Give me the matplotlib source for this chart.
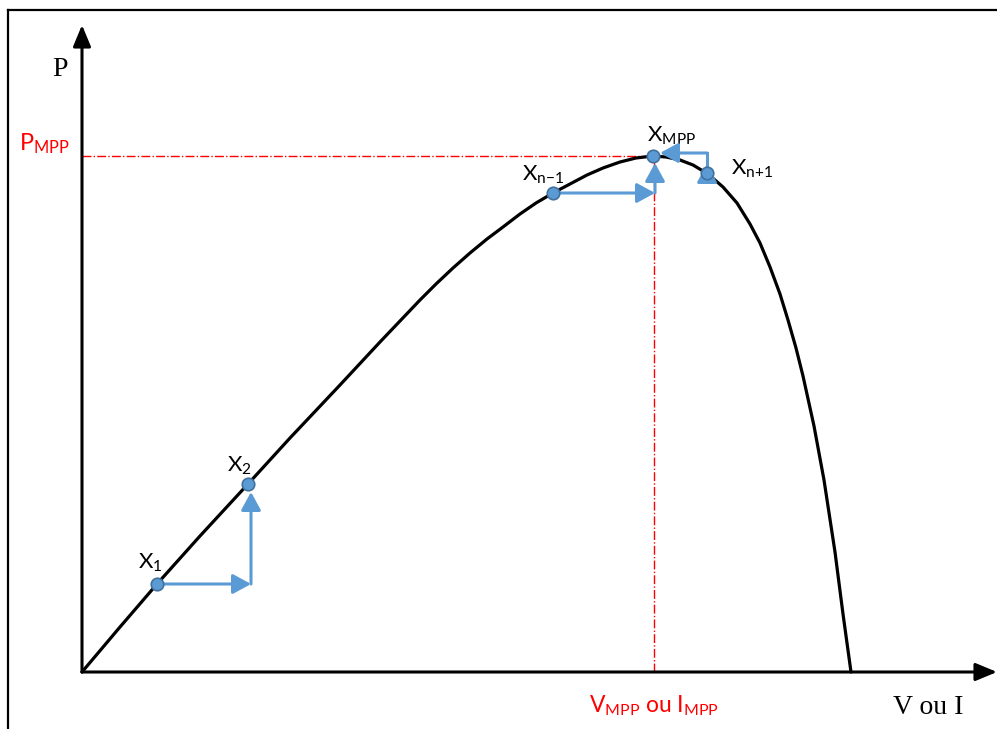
import numpy as np
import matplotlib
matplotlib.use("Agg")
import matplotlib.pyplot as plt
from matplotlib.lines import Line2D

plt.rcParams['mathtext.fontset'] = 'custom'
plt.rcParams['mathtext.rm'] = 'Lato'
plt.rcParams['mathtext.it'] = 'Lato:italic'

# courbe P(V) (unites arbitraires)
v_curve = [0.00, 0.38, 0.75, 1.18, 1.66, 2.08, 2.58, 2.98, 3.38, 3.54, 3.71, 3.88, 4.05,
           4.21, 4.38, 4.54, 4.71, 4.88, 5.05, 5.21, 5.38, 5.54, 5.71, 5.84, 5.98, 6.11,
           6.26, 6.41, 6.55, 6.68, 6.78, 6.88, 6.98, 7.06, 7.14, 7.21, 7.32, 7.42, 7.53,
           7.61, 7.69]
p_curve = [0.00, 0.45, 0.88, 1.36, 1.88, 2.34, 2.87, 3.30, 3.72, 3.88, 4.04, 4.19, 4.33,
           4.45, 4.58, 4.69, 4.79, 4.88, 4.97, 5.04, 5.10, 5.14, 5.16, 5.15, 5.12, 5.07,
           4.98, 4.85, 4.69, 4.48, 4.29, 4.05, 3.78, 3.52, 3.24, 2.96, 2.46, 1.92, 1.20,
           0.58, 0.00]

# points de fonctionnement
pt_names = ['X_{1}', 'X_{2}', 'X_{n{-}1}', 'X_{MPP}', 'X_{n{+}1}']
pt_v = [0.75, 1.66, 4.71, 5.71, 6.25]
pt_p = [0.88, 1.88, 4.79, 5.16, 4.99]
lbl_off = [(-14, 11), (-15, 9), (-22, 9), (-4, 10), (17, -1)]

v_mpp = 5.72
p_mpp = 5.16
v_max = 9.15
p_max = 6.47

blue = '#5B9BD5'
blue_dark = '#41719C'

fig = plt.figure(figsize=(9.97, 7.29), dpi=100)
ax = fig.add_axes([0, 0, 1, 1])
ax.set_xlim(-0.82, 9.15)
ax.set_ylim(-0.57, 6.72)
ax.axis('off')

# cadre
fig.add_artist(Line2D([8/997, 8/997], [0, 1 - 10/729], color='k', lw=1.6))
fig.add_artist(Line2D([8/997, 1], [1 - 10/729, 1 - 10/729], color='k', lw=1.6))

# axes avec fleches
ax_arrow = dict(arrowstyle='-|>,head_length=0.65,head_width=0.27', color='k', lw=2.2,
                mutation_scale=20, shrinkA=0, shrinkB=0)
ax.annotate('', xy=(v_max, 0), xytext=(0, 0), arrowprops=ax_arrow)
ax.annotate('', xy=(0, p_max), xytext=(0, 0), arrowprops=ax_arrow)

# lignes rouges du MPP
ax.plot([0, v_mpp], [p_mpp, p_mpp], color='red', lw=1, ls='-.')
ax.plot([v_mpp, v_mpp], [0, p_mpp], color='red', lw=1, ls='-.')

# courbe
ax.plot(v_curve, p_curve, color='k', lw=2.3, solid_capstyle='round',
        solid_joinstyle='round', zorder=3)

# fleches bleues
bl_arrow = dict(arrowstyle='-|>,head_length=0.55,head_width=0.3', color=blue, lw=2.2,
                mutation_scale=20, shrinkA=0, shrinkB=0)
c1 = 1.69
ax.annotate('', xy=(c1, pt_p[0]), xytext=(pt_v[0], pt_p[0]), arrowprops=bl_arrow, zorder=4)
ax.annotate('', xy=(c1, pt_p[1] - 0.08), xytext=(c1, pt_p[0]), arrowprops=bl_arrow, zorder=4)
c2 = 5.73
ax.annotate('', xy=(c2, pt_p[2]), xytext=(pt_v[2], pt_p[2]), arrowprops=bl_arrow, zorder=4)
ax.annotate('', xy=(c2, pt_p[3] - 0.07), xytext=(c2, pt_p[2]), arrowprops=bl_arrow, zorder=4)
top3 = 5.19
ax.plot([pt_v[4], pt_v[4]], [pt_p[4], top3], color=blue, lw=2.2, zorder=4)
ax.annotate('', xy=(pt_v[3] + 0.07, top3), xytext=(pt_v[4], top3), arrowprops=bl_arrow, zorder=4)
ax.annotate('', xy=(pt_v[4], pt_p[4] + 0.09), xytext=(pt_v[4], pt_p[4] - 0.02),
            arrowprops=bl_arrow, zorder=4)

ax.plot(pt_v, pt_p, 'o', ms=9, color=blue, mec=blue_dark, mew=1.2, zorder=5)

for name, v, p, off in zip(pt_names, pt_v, pt_p, lbl_off):
    ax.annotate(r'$\mathrm{' + name + '}$', xy=(v, p), xytext=off, textcoords='offset points',
                fontsize=16, color='k', ha='left', va='baseline')

# textes des axes
ax.text(-0.30, 5.96, 'P', fontsize=20, family='Liberation Serif', ha='left', va='baseline')
ax.text(8.11, -0.42, 'V ou I', fontsize=20, family='Liberation Serif', ha='left', va='baseline')
ax.text(-0.63, 5.22, r'$\mathrm{P_{MPP}}$', fontsize=17, color='red', ha='left', va='baseline')
ax.text(v_mpp, -0.40, r'$\mathrm{V_{MPP}}$ ou $\mathrm{I_{MPP}}$', fontsize=16.5, color='red',
        family='Lato', ha='center', va='baseline')

plt.savefig('out.png', dpi=100)
